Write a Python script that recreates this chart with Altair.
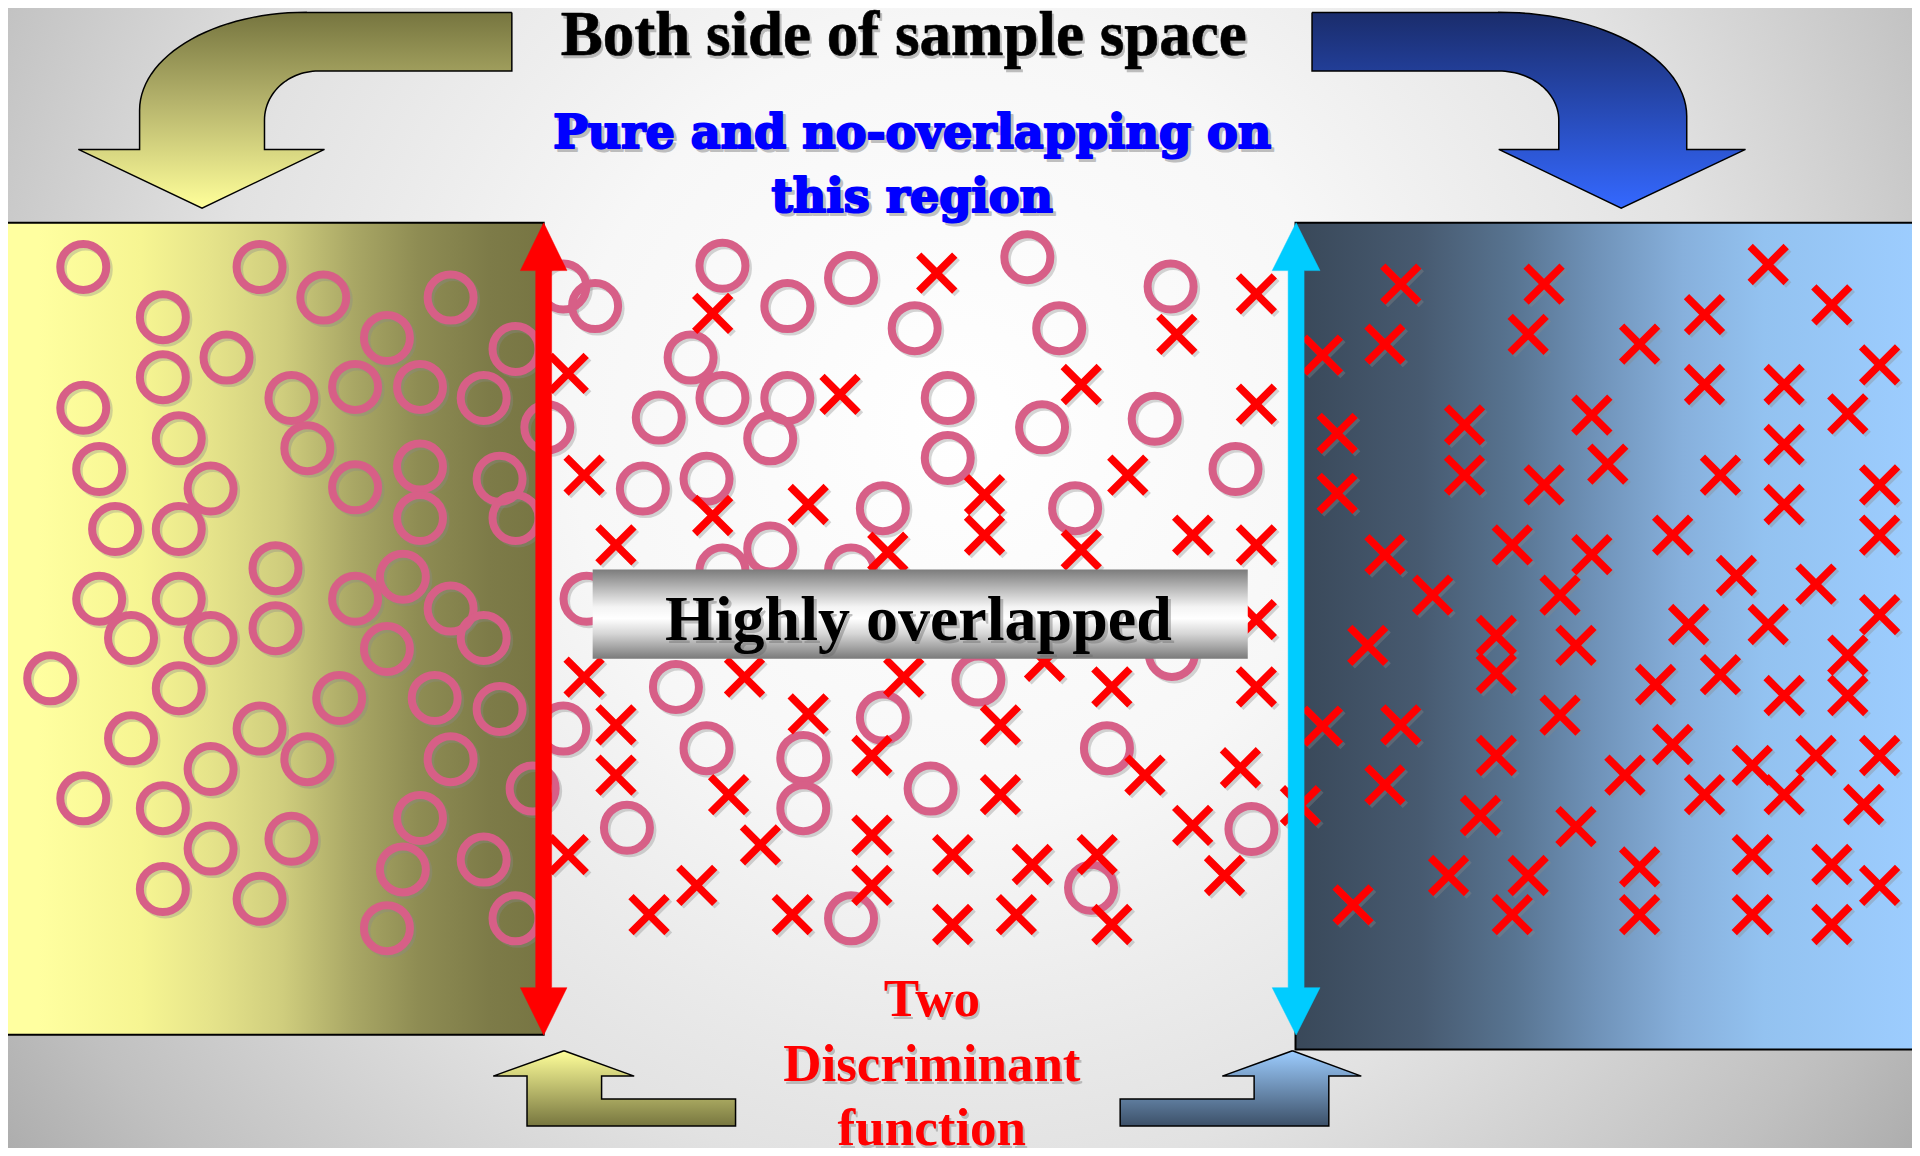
import altair as alt
import pandas as pd
import numpy as np

# ---------------- reference grid (1568 x 944 units) ----------------
K = 1920 / 1568
X0, X1 = 8 / K, 1912 / K
Y0, Y1 = 8 / K, 1148 / K

# ---------------- data ----------------
circle_x = [68, 212, 264, 368, 133, 316, 185, 421, 133, 68, 238, 290, 343, 395, 447, 146, 251, 81, 172, 290,
            343, 408, 343, 421, 94, 146, 225, 329, 81, 146, 290, 368, 107, 172, 225, 316, 395, 41, 146, 277,
            355, 408, 107, 212, 251, 368, 172, 435, 68, 133, 343, 172, 238, 329, 395, 133, 212, 316, 421,
            460, 486, 590, 643, 695, 839, 747, 865, 564, 590, 643, 538, 629, 774, 851, 774, 525, 577, 721,
            629, 878, 479, 590, 695, 956, 943, 1009, 957, 552, 799, 460, 577, 721, 656, 656, 760, 512, 695,
            904, 1022, 891]
circle_y = [218, 218, 243, 243, 259, 276, 292, 285, 308, 333, 325, 316, 316, 325, 349, 358, 366, 383, 399, 398,
            381, 391, 423, 423, 432, 432, 464, 471, 489, 489, 489, 497, 521, 521, 513, 530, 521, 554, 562, 570,
            570, 579, 603, 595, 620, 620, 628, 644, 652, 660, 668, 693, 685, 710, 702, 726, 734, 758, 750,
            234, 250, 217, 250, 227, 210, 268, 268, 292, 325, 325, 341, 358, 325, 349, 374, 399, 391, 415,
            448, 415, 489, 466, 466, 234, 342, 383, 534, 561, 555, 595, 611, 586, 619, 660, 644, 676, 750,
            611, 677, 725]

cross_x = [765, 582, 464, 686, 883, 477, 582, 660, 804, 804, 503, 725, 883, 1026, 961, 1026, 921, 974, 1026, 1026,
           477, 608, 738, 853, 503, 660, 817, 503, 595, 712, 817, 464, 621, 712, 778, 843, 569, 712, 530, 647,
           778, 830, 908, 1026, 935, 1013, 974, 896, 1000, 908, 1062,
           1144, 1261, 1444, 1496, 1392, 1080, 1131, 1248, 1339, 1535, 1392, 1457, 1509, 1092, 1196, 1300, 1457,
           1092, 1196, 1261, 1313, 1405, 1535, 1457, 1366, 1535, 1131, 1235, 1300, 1170, 1274, 1418, 1483, 1535,
           1117, 1222, 1287, 1379, 1444, 1509,
           1222, 1352, 1405, 1457, 1509, 1080, 1144, 1274, 1222, 1366, 1327, 1431, 1483, 1535, 1392, 1457, 1522,
           1131, 1209, 1287, 1339, 1431, 1496, 1535, 1183, 1248, 1105, 1235, 1339, 1431, 1496]
cross_y = [223, 256, 305, 322, 314, 388, 421, 412, 404, 437, 445, 451, 449, 240, 273, 330, 388, 437, 445, 506,
           553, 553, 553, 540, 592, 583, 592, 633, 649, 617, 649, 698, 690, 682, 698, 706, 723, 723, 747, 747,
           755, 747, 561, 561, 633, 627, 674, 698, 715, 755, 658,
           232, 232, 216, 249, 257, 290, 281, 273, 281, 298, 314, 314, 338, 354, 347, 339, 363,
           403, 388, 396, 379, 388, 396, 412, 437, 437, 453, 445, 453, 486, 486, 470, 477, 502,
           527, 519, 527, 510, 510, 535,
           550, 559, 551, 568, 568, 593, 592, 584, 617, 608, 633, 625, 617, 617, 649, 649, 657,
           641, 666, 675, 708, 698, 706, 723, 715, 715, 739, 747, 747, 747, 755]

# boxes: [x, x2, y, y2]
left_box = [0, 444, 182, 845]
right_box = [1058, 1568, 182, 857]
overlap_box = [484, 1019, 465, 538]

title_text = ["Both side of sample space"]
blue_text = ["Pure and no-overlapping on", "this region"]
overlap_text = ["Highly overlapped"]
red_text = ["Two", "Discriminant", "function"]

# ---------------- scales ----------------
XS = alt.Scale(domain=[X0, X1], nice=False, zero=False)
YS = alt.Scale(domain=[Y0, Y1], nice=False, zero=False, reverse=True)
X = alt.X("x:Q", scale=XS, axis=None)
Y = alt.Y("y:Q", scale=YS, axis=None)
X2 = alt.X2("x2:Q")
Y2 = alt.Y2("y2:Q")


def lin(stops, horizontal=True):
    g = {"gradient": "linear", "stops": [{"offset": o, "color": c} for o, c in stops]}
    if horizontal:
        g.update({"x1": 0, "x2": 1, "y1": 0, "y2": 0})
    else:
        g.update({"x1": 0, "x2": 0, "y1": 0, "y2": 1})
    return g


def rect_layer(box, fill, stroke=None, sw=0):
    df = pd.DataFrame({"x": [box[0]], "x2": [box[1]], "y": [box[2]], "y2": [box[3]]})
    kw = dict(fill=fill)
    if stroke:
        kw.update(stroke=stroke, strokeWidth=sw)
    return alt.Chart(df).mark_rect(**kw).encode(x=X, x2=X2, y=Y, y2=Y2)


def poly_layer(px, py, fill, stroke, sw):
    px = list(px) + [px[0]]
    py = list(py) + [py[0]]
    df = pd.DataFrame({"x": px, "y": py, "i": list(range(len(px)))})
    return alt.Chart(df).mark_line(fill=fill, stroke=stroke, strokeWidth=sw, strokeJoin="miter",
                                   interpolate="linear").encode(x=X, y=Y, order="i:Q")


def text_layer(xs, ys, texts, font, size, color, dx=0, dy=0, opacity=1.0, sw=0):
    df = pd.DataFrame({"x": xs, "y": ys, "t": texts})
    kw = {}
    if sw:
        kw.update(stroke=color, strokeWidth=sw, strokeJoin="round")
    return alt.Chart(df).mark_text(font=font, fontSize=size, fontWeight="bold", color=color,
                                   align="center", baseline="alphabetic", dx=dx, dy=dy,
                                   opacity=opacity, **kw).encode(x=X, y=Y, text="t:N")


# ---------------- background ----------------
bg = rect_layer([0, 1568, 0, 944], {
    "gradient": "radial", "x1": 0.5, "y1": 0.42, "r1": 0, "x2": 0.5, "y2": 0.42, "r2": 0.7,
    "stops": [{"offset": 0, "color": "#ffffff"}, {"offset": 0.29, "color": "#f7f7f7"},
              {"offset": 0.56, "color": "#e2e2e2"}, {"offset": 0.67, "color": "#d2d2d2"},
              {"offset": 0.79, "color": "#c0c0c0"}, {"offset": 0.93, "color": "#a6a6a6"},
              {"offset": 1, "color": "#9c9c9c"}]})

# ---------------- top bent arrows ----------------
t = np.linspace(0, np.pi / 2, 30)
# left (olive -> yellow)
lx = [418, 250] + list(250 - 136 * np.sin(t)) + [114, 114, 64, 165, 265, 216] + \
     list(260 - 44 * np.cos(t)) + [418]
ly = [10.3, 10.3] + list(90 - 80 * np.cos(t)) + [90, 122, 122, 170, 122, 122] + \
     list(98 - 40 * np.sin(t)) + [58]
top_left = poly_layer(lx, ly, lin([(0, "#76753f"), (0.45, "#b4b26b"), (1, "#ffff9a")], False), "black", 1.5)
# right (navy -> blue)
rx = [1071.5, 1224] + list(1224 + 153.5 * np.sin(t)) + [1377.5, 1425.5, 1324, 1224, 1273] + \
     list(1224 + 49 * np.cos(t)) + [1071.5]
ry = [10.3, 10.3] + list(95 - 85 * np.cos(t)) + [122, 122, 170, 122, 122] + \
     list(98 - 40 * np.sin(t)) + [58]
top_right = poly_layer(rx, ry, lin([(0, "#1a2c6b"), (1, "#3468ff")], False), "black", 1.5)

# ---------------- texts ----------------
title_sh = text_layer([738], [45], title_text, "Liberation Serif", 63, "#777777", 2, 3, 0.45, 0.6)
title = text_layer([738], [45], title_text, "Liberation Serif", 63, "black", sw=0.6)
blue_sh = text_layer([745, 745], [121, 173], blue_text, "DejaVu Serif", 46, "#555555", 3, 3, 0.35, 2.2)
blue = text_layer([745, 745], [121, 173], blue_text, "DejaVu Serif", 46, "#0000ff", sw=2.2)

# ---------------- class boxes ----------------
lbox = rect_layer(left_box, lin([(0, "#ffffa0"), (0.07, "#ffffa0"), (0.26, "#f6f592"), (0.39, "#e5e38a"),
                                 (0.52, "#cfcd7d"), (0.65, "#a9a765"), (0.77, "#8e8c53"), (0.9, "#7d7b48"),
                                 (1, "#777543")]), "black", 2)
rbox = rect_layer(right_box, lin([(0, "#394859"), (0.2, "#475a70"), (0.35, "#587491"), (0.48, "#6f92b8"),
                                  (0.62, "#87b0dc"), (0.75, "#93c2f0"), (1, "#9dcdff")]), "black", 2)

# ---------------- points ----------------
cdf = pd.DataFrame({"x": circle_x, "y": circle_y})
xdf = pd.DataFrame({"x": cross_x, "y": cross_y})
XPATH = "M-1,-1L1,1M1,-1L-1,1"
c_sh = alt.Chart(cdf).mark_point(shape="circle", filled=False, size=2116, strokeWidth=8, color="#8a8a8a",
                                 opacity=0.35, xOffset=2.5, yOffset=2.5).encode(x=X, y=Y)
x_sh = alt.Chart(xdf).mark_point(shape=XPATH, filled=False, size=1296, strokeWidth=7.5, color="#8a8a8a",
                                 opacity=0.35, strokeCap="butt", xOffset=2.5, yOffset=2.5).encode(x=X, y=Y)
circles = alt.Chart(cdf).mark_point(shape="circle", filled=False, size=2116, strokeWidth=8, color="#d75f87",
                                    opacity=1).encode(x=X, y=Y)
crosses = alt.Chart(xdf).mark_point(shape=XPATH, filled=False, size=1296, strokeWidth=7.5, color="#ff0000",
                                    opacity=1, strokeCap="butt").encode(x=X, y=Y)

# ---------------- overlap banner ----------------
obox = rect_layer(overlap_box, lin([(0, "#7b7b7b"), (0.2, "#b5b5b5"), (0.42, "#f4f4f4"), (0.55, "#ffffff"),
                                    (0.72, "#d6d6d6"), (1, "#7a7a7a")], False))
otext_sh = text_layer([750], [523], overlap_text, "Liberation Serif", 64, "#666666", 3, 3, 0.4)
otext = text_layer([750], [523], overlap_text, "Liberation Serif", 64, "black")

# ---------------- discriminant arrows ----------------
def double_arrow(cx, half_shaft, half_head, top, base_top, base_bot, bot, color):
    px = [cx, cx + half_head, cx + half_shaft, cx + half_shaft, cx + half_head, cx,
          cx - half_head, cx - half_shaft, cx - half_shaft, cx - half_head]
    py = [top, base_top, base_top, base_bot, base_bot, bot, base_bot, base_bot, base_top, base_top]
    return poly_layer(px, py, color, color, 0.5)


red_arrow = double_arrow(444, 6.5, 19, 182, 221, 806.6, 845.3, "#ff0000")
cyan_arrow = double_arrow(1058.5, 6.5, 19.5, 182, 221, 806.6, 845.3, "#00ccff")

# ---------------- bottom arrows ----------------
bl = poly_layer([460.6, 517.9, 491.3, 491.3, 600.7, 600.7, 430.4, 430.4, 402.8],
                [858.1, 878.8, 878.8, 897.5, 897.5, 919.6, 919.6, 878.8, 878.8],
                lin([(0, "#ffff9a"), (1, "#77763f")], False), "black", 1.5)
br = poly_layer([1055.5, 1111.7, 1085.2, 1085.2, 914.8, 914.8, 1024.2, 1024.2, 998.2],
                [858.1, 878.8, 878.8, 919.6, 919.6, 897.5, 897.5, 878.8, 878.8],
                lin([(0, "#9dcdff"), (1, "#3c5068")], False), "black", 1.5)

red_sh = text_layer([761, 761, 761], [830, 883, 935], red_text, "Liberation Serif", 53, "#777777", 2, 3, 0.4)
red = text_layer([761, 761, 761], [830, 883, 935], red_text, "Liberation Serif", 53, "#ff0000")

chart = alt.layer(
    bg, top_left, top_right, title_sh, title, blue_sh, blue,
    lbox, rbox, c_sh, x_sh, circles, crosses,
    obox, otext_sh, otext, red_arrow, cyan_arrow, bl, br, red_sh, red
).properties(
    width=1904, height=1140, padding=0, autosize=alt.AutoSizeParams(type="none")
).configure_view(stroke=None)

chart.save("out.html", embed_options={"renderer": "svg", "actions": False})
